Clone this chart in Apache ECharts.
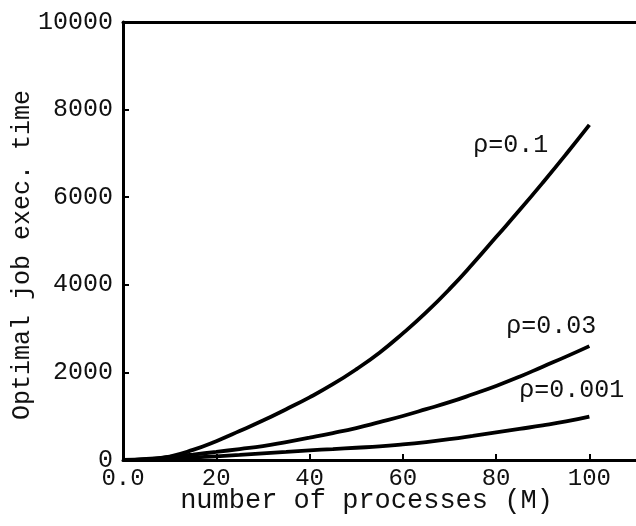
<!DOCTYPE html>
<html>
<head>
<meta charset="utf-8">
<script src="https://cdn.jsdelivr.net/npm/echarts@6/dist/echarts.min.js"></script>
<style>html,body{margin:0;padding:0;background:#fff;}#c{width:636px;height:526px;}</style>
</head>
<body>
<div id="c"></div>
<script>
const processes = [0,5,10,15,20,25,30,35,40,45,50,55,60,65,70,75,80,85,90,95,100];
const rho01   = [0,15,80,230,430,660,900,1160,1430,1730,2070,2450,2890,3370,3900,4480,5090,5700,6330,6980,7650];
const rho003  = [0,25,70,125,185,250,315,410,510,615,730,865,1005,1160,1320,1500,1690,1900,2130,2360,2600];
const rho0001 = [0,10,30,55,85,115,150,185,220,250,280,310,355,410,475,550,630,710,790,880,990];
const seriesNames = ['ρ=0.1','ρ=0.03','ρ=0.001'];
const xTickValues = [0,20,40,60,80,100];
const xTickLabels = ['0.0','20','40','60','80','100'];
const yTickValues = [0,2000,4000,6000,8000,10000];
const yTickLabels = ['0','2000','4000','6000','8000','10000'];

const FONT = 'Liberation Mono';
const chart = echarts.init(document.getElementById('c'));
function pairs(ys){ return processes.map((x,i)=>[x,ys[i]]); }
function mkSeries(name, ys, off){
  return {
    name, type:'line', data:pairs(ys), smooth:true, symbol:'none',
    lineStyle:{color:'#000', width:3.8},
    endLabel:{show:true, formatter:name, fontFamily:FONT, fontSize:25, color:'#111',
      align:'right', verticalAlign:'middle', offset:off}
  };
}
chart.setOption({
  animation:false,
  grid:{left:123, right:0, top:22, bottom:66, outerBoundsMode:'none', containLabel:false},
  xAxis:[{
    type:'value', min:0, max:110, interval:20,
    name:'number of processes (M)', nameLocation:'middle', nameGap:27, nameMoveOverlap:false,
    nameTextStyle:{fontFamily:FONT, fontSize:27, color:'#111', padding:[0,26,0,0]},
    axisLine:{lineStyle:{color:'#000', width:3}},
    axisTick:{inside:true, length:6, customValues:xTickValues, lineStyle:{color:'#000', width:2}},
    axisLabel:{fontFamily:FONT, fontSize:24, color:'#111', margin:7, customValues:xTickValues,
      formatter:v=>{const i=xTickValues.indexOf(v); return i>=0?xTickLabels[i]:'';}},
    splitLine:{show:false}
  },{
    type:'value', min:0, max:110, position:'top',
    axisLine:{show:true, lineStyle:{color:'#000', width:3}},
    axisTick:{show:false}, axisLabel:{show:false}, splitLine:{show:false}
  }],
  yAxis:{
    type:'value', min:0, max:10000, interval:2000,
    name:'Optimal job exec. time', nameLocation:'middle', nameGap:88, nameRotate:90, nameMoveOverlap:false,
    nameTextStyle:{fontFamily:FONT, fontSize:25, color:'#111', padding:[0,28,0,0]},
    axisLine:{show:true, lineStyle:{color:'#000', width:3}},
    axisTick:{show:true, inside:true, length:6, lineStyle:{color:'#000', width:2}},
    axisLabel:{fontFamily:FONT, fontSize:25, color:'#111', margin:10,
      formatter:v=>{const i=yTickValues.indexOf(v); return i>=0?yTickLabels[i]:'';}},
    splitLine:{show:false}
  },
  series:[
    mkSeries(seriesNames[0], rho01, [-49,20]),
    mkSeries(seriesNames[1], rho003, [-1,-20]),
    mkSeries(seriesNames[2], rho0001, [27,-26])
  ]
});
</script>
</body>
</html>
